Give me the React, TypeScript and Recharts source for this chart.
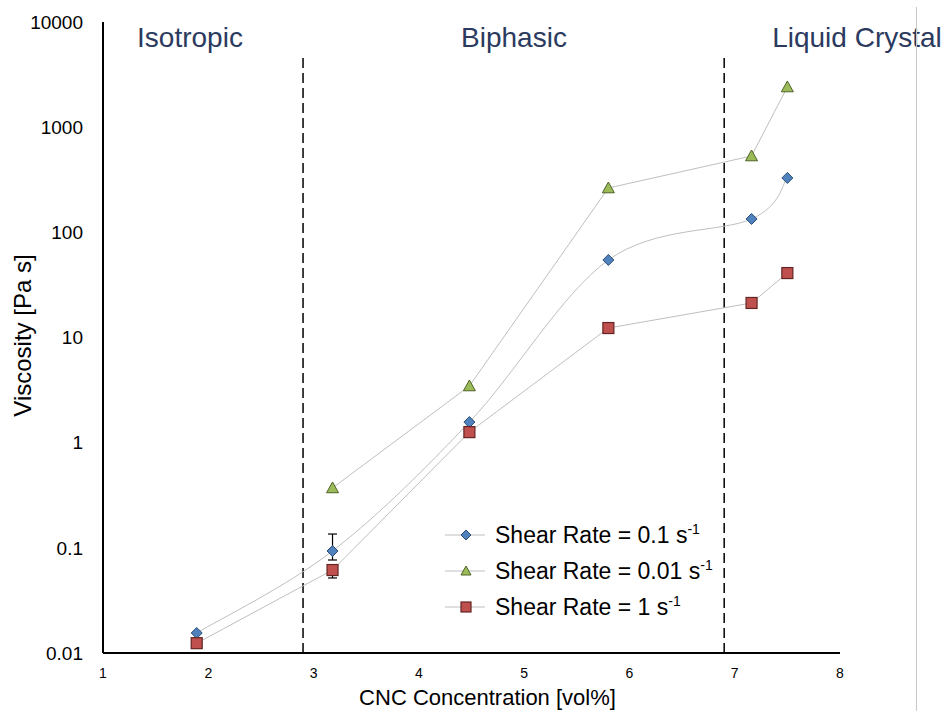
import { LineChart, Line, XAxis, YAxis, ReferenceLine, ErrorBar, Legend } from 'recharts'

const FONT = '"Liberation Sans", Arial, Helvetica, sans-serif'

// CNC concentration [vol%]
const concentration = [1.89, 3.18, 4.48, 5.8, 7.16, 7.5]
// viscosity [Pa s] per shear rate
const viscosityRate01 = [0.0155, 0.0933, 1.57, 54.6, 134, 329]
const viscosityRate001 = [null, 0.371, 3.46, 264, 532, 2410]
const viscosityRate1 = [0.0124, 0.0615, 1.26, 12.3, 21.3, 41]
// error bars [minus, plus]
const errorRate01 = [null, [0.0167, 0.042], null, null, null, null]
const errorRate1 = [null, [0.0098, 0.0065], null, null, null, null]

const xTicks = [1, 2, 3, 4, 5, 6, 7, 8]
const yTicks = [0.01, 0.1, 1, 10, 100, 1000, 10000]
const phaseBounds = [2.9, 6.9]

function toSeries(values: (number | null)[], errors?: (number[] | null)[]) {
  return concentration
    .map((x, i) => ({ x, y: values[i], err: errors ? errors[i] : null }))
    .filter(d => d.y !== null)
}

const dataRate01 = toSeries(viscosityRate01, errorRate01)
const dataRate001 = toSeries(viscosityRate001)
const dataRate1 = toSeries(viscosityRate1, errorRate1)

// Excel-style smoothed line (Catmull-Rom through the points)
function smoothCurve(context: any) {
  let pts: number[][] = []
  return {
    areaStart() {},
    areaEnd() {},
    lineStart() {
      pts = []
    },
    point(x: number, y: number) {
      pts.push([+x, +y])
    },
    lineEnd() {
      if (!pts.length) return
      context.moveTo(pts[0][0], pts[0][1])
      for (let i = 0; i < pts.length - 1; i++) {
        const p0 = pts[i - 1] || pts[i]
        const p1 = pts[i]
        const p2 = pts[i + 1]
        const p3 = pts[i + 2] || p2
        context.bezierCurveTo(
          p1[0] + (p2[0] - p0[0]) / 6,
          p1[1] + (p2[1] - p0[1]) / 6,
          p2[0] - (p3[0] - p1[0]) / 6,
          p2[1] - (p3[1] - p1[1]) / 6,
          p2[0],
          p2[1],
        )
      }
    },
  }
}

function Diamond({ cx, cy, r = 5.5 }: any) {
  return (
    <path
      d={`M${cx},${cy - r}L${cx + r},${cy}L${cx},${cy + r}L${cx - r},${cy}Z`}
      fill="#4f81bd"
      stroke="#2c4d75"
      strokeWidth={1}
    />
  )
}

function Triangle({ cx, cy, r = 6 }: any) {
  return (
    <path
      d={`M${cx},${cy - r}L${cx + r},${cy + r * 0.8}L${cx - r},${cy + r * 0.8}Z`}
      fill="#9bbb59"
      stroke="#4f6228"
      strokeWidth={1}
    />
  )
}

function Square({ cx, cy, r = 5.5 }: any) {
  return (
    <rect
      x={cx - r}
      y={cy - r}
      width={r * 2}
      height={r * 2}
      fill="#c0504d"
      stroke="#632523"
      strokeWidth={1.2}
    />
  )
}

const legendRows = [
  { label: 'Shear Rate = 0.1 s', Marker: Diamond },
  { label: 'Shear Rate = 0.01 s', Marker: Triangle },
  { label: 'Shear Rate = 1 s', Marker: Square },
]

function renderLegend() {
  return (
    <div style={{ fontFamily: FONT, color: '#000' }}>
      {legendRows.map(({ label, Marker }) => (
        <div key={label} style={{ display: 'flex', alignItems: 'center', height: 36 }}>
          <svg width={40} height={20}>
            <line x1={0} y1={10} x2={40} y2={10} stroke="#bfbfbf" strokeWidth={1} />
            <Marker cx={21} cy={10} r={5} />
          </svg>
          <span style={{ marginLeft: 10, fontSize: 23, whiteSpace: 'nowrap' }}>
            {label}
            <span style={{ fontSize: 14, position: 'relative', top: -9 }}>-1</span>
          </span>
        </div>
      ))}
    </div>
  )
}

const phaseLabelStyle: React.CSSProperties = {
  position: 'absolute',
  top: 22,
  fontFamily: FONT,
  fontSize: 28,
  color: '#2b3a5e',
  whiteSpace: 'nowrap',
  transform: 'translateX(-50%)',
}

export default function App() {
  return (
    <div style={{ position: 'absolute', left: 0, top: 0, width: 945, height: 711, background: '#fff' }}>
      <LineChart width={945} height={711} margin={{ top: 22, right: 105, bottom: 0, left: 0 }}>
        <XAxis
          type="number"
          dataKey="x"
          domain={[1, 8]}
          ticks={xTicks}
          allowDataOverflow
          height={58}
          tickLine={false}
          tickMargin={9}
          axisLine={{ stroke: '#000', strokeWidth: 2 }}
          tick={{ fill: '#000', fontSize: 14, fontFamily: FONT }}
          label={{
            content: ({ viewBox }: any) => (
              <text
                x={viewBox.x + viewBox.width / 2 + 16}
                y={705}
                textAnchor="middle"
                fontSize={22}
                fontFamily={FONT}
                fill="#000"
              >
                CNC Concentration  [vol%]
              </text>
            ),
          }}
        />
        <YAxis
          type="number"
          scale="log"
          domain={[0.01, 10000]}
          ticks={yTicks}
          allowDataOverflow
          width={103}
          tickLine={false}
          tickMargin={14}
          axisLine={{ stroke: '#000', strokeWidth: 2 }}
          tick={{ fill: '#000', fontSize: 19, fontFamily: FONT }}
          label={{
            content: ({ viewBox }: any) => {
              const cx = 22
              const cy = viewBox.y + viewBox.height / 2 - 2
              return (
                <text
                  x={cx}
                  y={cy}
                  transform={`rotate(-90 ${cx} ${cy})`}
                  textAnchor="middle"
                  dominantBaseline="central"
                  fontSize={24}
                  fontFamily={FONT}
                  fill="#000"
                >
                  Viscosity [Pa s]
                </text>
              )
            },
          }}
        />
        {phaseBounds.map(b => (
          <ReferenceLine
            key={b}
            segment={[{ x: b, y: 0.01 }, { x: b, y: 4800 }]}
            stroke="#000"
            strokeWidth={1.5}
            strokeDasharray="10 5"
          />
        ))}
        <Line
          data={dataRate01}
          dataKey="y"
          name="Shear Rate = 0.1 s-1"
          type={smoothCurve as any}
          stroke="#bfbfbf"
          strokeWidth={1}
          dot={(p: any) => <Diamond key={`d-${p.index}`} cx={p.cx} cy={p.cy} />}
          isAnimationActive={false}
        >
          <ErrorBar dataKey="err" width={4.5} stroke="#000" strokeWidth={1.2} direction="y" />
        </Line>
        <Line
          data={dataRate001}
          dataKey="y"
          name="Shear Rate = 0.01 s-1"
          type="linear"
          stroke="#bfbfbf"
          strokeWidth={1}
          dot={(p: any) => <Triangle key={`t-${p.index}`} cx={p.cx} cy={p.cy} />}
          isAnimationActive={false}
        />
        <Line
          data={dataRate1}
          dataKey="y"
          name="Shear Rate = 1 s-1"
          type="linear"
          stroke="#bfbfbf"
          strokeWidth={1}
          dot={(p: any) => <Square key={`s-${p.index}`} cx={p.cx} cy={p.cy} />}
          isAnimationActive={false}
        >
          <ErrorBar dataKey="err" width={4.5} stroke="#000" strokeWidth={1.2} direction="y" />
        </Line>
        <Legend
          layout="horizontal"
          verticalAlign="middle"
          align="center"
          content={renderLegend}
          wrapperStyle={{ position: 'absolute', left: 445, top: 517, width: 320 }}
        />
      </LineChart>
      <div style={{ ...phaseLabelStyle, left: 190 }}>Isotropic</div>
      <div style={{ ...phaseLabelStyle, left: 514 }}>Biphasic</div>
      <div style={{ ...phaseLabelStyle, left: 857 }}>Liquid Crystal</div>
      <div style={{ position: 'absolute', left: 916, top: 7, width: 1, height: 704, background: '#c8c8c8' }} />
    </div>
  )
}
